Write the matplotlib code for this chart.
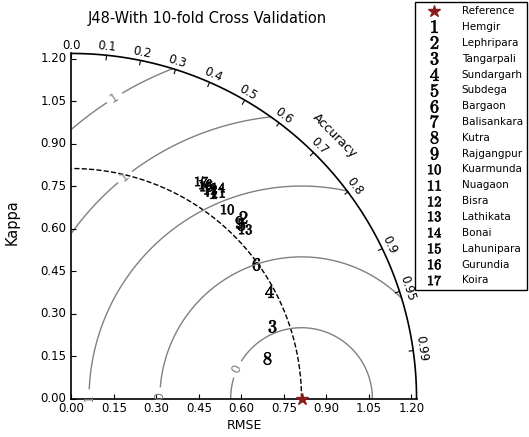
import numpy as np
import matplotlib
matplotlib.use("Agg")
import matplotlib.pyplot as plt
from matplotlib.projections import PolarAxes
import mpl_toolkits.axisartist.floating_axes as FA
import mpl_toolkits.axisartist.grid_finder as GF

plt.rcParams['mathtext.fontset'] = 'cm'

# reference and sample values (std-dev axis / correlation axis)
ref_std = 0.812
names = ['Hemgir', 'Lephripara', 'Tangarpali', 'Sundargarh', 'Subdega', 'Bargaon',
         'Balisankara', 'Kutra', 'Rajgangpur', 'Kuarmunda', 'Nuagaon', 'Bisra',
         'Lathikata', 'Bonai', 'Lahunipara', 'Gurundia', 'Koira']
stds = [0.885, 0.881, 0.753, 0.794, 0.859, 0.805, 0.881, 0.706, 0.859, 0.866,
        0.892, 0.888, 0.856, 0.908, 0.888, 0.892, 0.895]
corrs = [0.565, 0.687, 0.940, 0.879, 0.698, 0.807, 0.548, 0.979, 0.687, 0.633,
         0.579, 0.552, 0.715, 0.570, 0.535, 0.527, 0.512]
corr_ticks = [0.0, 0.1, 0.2, 0.3, 0.4, 0.5, 0.6, 0.7, 0.8, 0.9, 0.95, 0.99]
rms_levels = [0.25, 0.5, 0.75, 1.0, 1.25]
std_ticks = [0.0, 0.15, 0.30, 0.45, 0.60, 0.75, 0.90, 1.05, 1.20]

fig = plt.figure(figsize=(5.29, 4.37), dpi=100)

smax = 1.5 * ref_std
tr = PolarAxes.PolarTransform(apply_theta_transforms=False)
tlocs = np.arccos(corr_ticks)
gl1 = GF.FixedLocator(tlocs)
tf1 = GF.DictFormatter(dict(zip(tlocs, map(str, corr_ticks))))
gl2 = GF.FixedLocator(std_ticks)
tf2 = GF.DictFormatter({v: '%.2f' % v for v in std_ticks})
ghelper = FA.GridHelperCurveLinear(tr, extremes=(0, np.pi / 2, 0, smax),
                                   grid_locator1=gl1, tick_formatter1=tf1,
                                   grid_locator2=gl2, tick_formatter2=tf2)

ax = FA.FloatingAxes(fig, [68 / 529, 35 / 437, 352 / 529, 352 / 437], grid_helper=ghelper)
fig.add_axes(ax)

ax.axis["top"].set_axis_direction("bottom")
ax.axis["top"].toggle(ticklabels=True, label=True)
ax.axis["top"].major_ticklabels.set_axis_direction("top")
ax.axis["top"].label.set_axis_direction("top")
ax.axis["top"].label.set_text("Accuracy")

ax.axis["left"].set_axis_direction("bottom")
ax.axis["left"].label.set_text("RMSE")

ax.axis["right"].set_axis_direction("top")
ax.axis["right"].toggle(ticklabels=True)
ax.axis["right"].major_ticklabels.set_axis_direction("left")

ax.axis["bottom"].set_visible(False)

for k in ["top", "left", "right"]:
    ax.axis[k].major_ticklabels.set_fontsize(8.5)
    ax.axis[k].label.set_fontsize(9)
    ax.axis[k].line.set_linewidth(1.2)

aux = ax.get_aux_axes(tr)

# reference point and its std arc
star, = aux.plot([0], [ref_std], '*', color='#8b1a1a', ms=9, ls='', label='Reference',
                 clip_on=False, zorder=5)
t = np.linspace(0, np.pi / 2)
aux.plot(t, np.zeros_like(t) + ref_std, 'k--', lw=1)

handles = [star]
for i, (s, c) in enumerate(zip(stds, corrs)):
    h, = aux.plot(np.arccos(c), s, marker='$%d$' % (i + 1), ms=9, mew=0.5, ls='',
                  color='k', label=names[i])
    handles.append(h)

# centred RMS contours
rs, ts = np.meshgrid(np.linspace(0, smax, 200), np.linspace(0, np.pi / 2, 200))
rms = np.sqrt(ref_std ** 2 + rs ** 2 - 2 * ref_std * rs * np.cos(ts))
cs = aux.contour(ts, rs, rms, rms_levels, colors='0.5', linewidths=1)
plt.clabel(cs, inline=1, fontsize=9, fmt='%.0f')

fig.text(207 / 529, 1 - 18 / 437, 'J48-With 10-fold Cross Validation',
         ha='center', va='center', fontsize=10.5)
fig.text(12 / 529, 1 - 222 / 437, 'Kappa', rotation=90,
         ha='center', va='center', fontsize=10.5)

fig.legend(handles, [h.get_label() for h in handles], numpoints=1,
           prop=dict(size=7.5), loc='upper right', bbox_to_anchor=(527 / 529, 1 - 2 / 437),
           borderaxespad=0, fancybox=False, edgecolor='k', framealpha=1,
           labelspacing=0.56, handlelength=2.8, handletextpad=1.3)

fig.savefig('out.png', dpi=100)
